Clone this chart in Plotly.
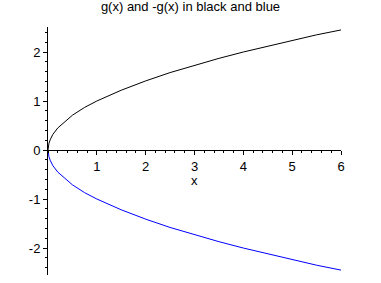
import plotly.graph_objects as go

# values
x_vals = [0, 0.005, 0.02, 0.05, 0.1, 0.2, 0.35, 0.5, 0.75, 1.0, 1.5, 2.0, 2.5, 3.0, 3.5, 4.0, 4.5, 5.0, 5.5, 6.0]
g_vals = [0, 0.07, 0.14, 0.22, 0.32, 0.45, 0.59, 0.71, 0.87, 1.0, 1.22, 1.41, 1.58, 1.73, 1.87, 2.0, 2.12, 2.24, 2.35, 2.45]
neg_g_vals = [0, -0.07, -0.14, -0.22, -0.32, -0.45, -0.59, -0.71, -0.87, -1.0, -1.22, -1.41, -1.58, -1.73, -1.87, -2.0, -2.12, -2.24, -2.35, -2.45]

x_ticks = [1, 2, 3, 4, 5, 6]
x_tick_labels = ["1", "2", "3", "4", "5", "6"]
y_ticks = [-2, -1, 0, 1, 2]
y_tick_labels = ["-2", "-1", "0", "1", "2"]

title_text = "g(x) and -g(x) in black and blue"
x_label = "x"

YMIN, YMAX = -2.55, 2.51

fig = go.Figure()
fig.add_trace(go.Scatter(x=x_vals, y=g_vals, mode="lines",
                         line=dict(color="black", width=1), showlegend=False))
fig.add_trace(go.Scatter(x=x_vals, y=neg_g_vals, mode="lines",
                         line=dict(color="#0000ff", width=1), showlegend=False))

font = dict(family="Liberation Sans, Arial, sans-serif", size=13, color="black")

fig.update_layout(
    width=381, height=283,
    margin=dict(l=48, r=40, t=27, b=8),
    paper_bgcolor="white", plot_bgcolor="white",
    font=font,
    title=dict(text=title_text, x=0.5, xref="container", xanchor="center",
               y=0.995, yref="container", yanchor="top", font=font),
    xaxis=dict(range=[0, 6], anchor="free", position=(0 - YMIN) / (YMAX - YMIN),
               showgrid=False, zeroline=False, showline=True, linecolor="black", linewidth=1,
               tickmode="array", tickvals=x_ticks, ticktext=x_tick_labels,
               ticks="outside", ticklen=4, tickcolor="black", tickwidth=1,
               minor=dict(tick0=0, dtick=0.2, ticks="outside", ticklen=2, tickcolor="black"),
               tickfont=font),
    yaxis=dict(range=[YMIN, YMAX], showgrid=False, zeroline=False,
               showline=True, linecolor="black", linewidth=1,
               tickmode="array", tickvals=y_ticks, ticktext=y_tick_labels,
               ticks="outside", ticklen=4, tickcolor="black", tickwidth=1,
               minor=dict(tick0=0, dtick=0.2, ticks="outside", ticklen=2, tickcolor="black"),
               tickfont=font),
)

fig.add_annotation(text=x_label, x=3, y=0, xref="x", yref="y",
                   xanchor="center", yanchor="top", yshift=-21,
                   showarrow=False, font=font)

fig.write_html("out.html")
